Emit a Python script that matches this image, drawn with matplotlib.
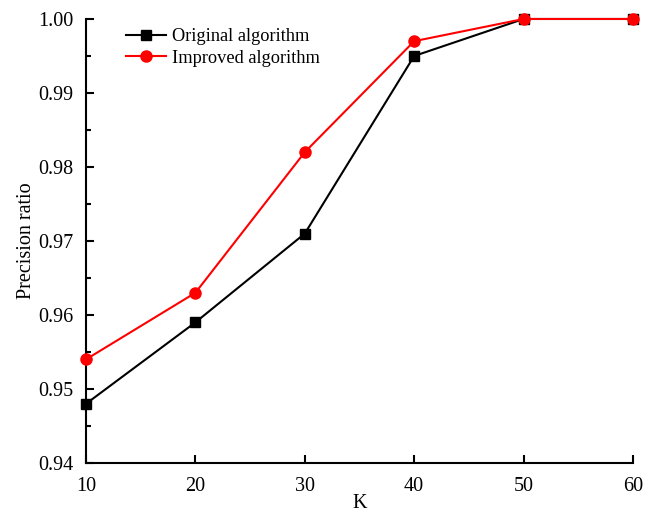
import matplotlib.pyplot as plt
from matplotlib.ticker import MultipleLocator

plt.rcParams["font.family"] = ["Liberation Serif", "DejaVu Serif"]

k_values = [10, 20, 30, 40, 50, 60]
original = [0.948, 0.959, 0.971, 0.995, 1.000, 1.000]
improved = [0.954, 0.963, 0.982, 0.997, 1.000, 1.000]
y_ticks = [0.94, 0.95, 0.96, 0.97, 0.98, 0.99, 1.00]

fig = plt.figure(figsize=(6.59, 5.13), dpi=100)
ax = fig.add_axes([0.1305, 0.0975, 0.83, 0.8655])

ax.plot(k_values, original, color="black", marker="s", markersize=6.5,
        linewidth=1.5, label="Original algorithm", clip_on=False, zorder=3)
ax.plot(k_values, improved, color="red", marker="o", markersize=8,
        linewidth=1.5, label="Improved algorithm", clip_on=False, zorder=4)

ax.set_xlim(10, 60)
ax.set_ylim(0.94, 1.00)
ax.set_xticks(k_values)
ax.set_yticks(y_ticks)
ax.set_yticklabels([f"{v:.2f}" for v in y_ticks])
ax.yaxis.set_minor_locator(MultipleLocator(0.005))

for side in ["top", "right"]:
    ax.spines[side].set_visible(False)
for side in ["left", "bottom"]:
    ax.spines[side].set_linewidth(1.5)

ax.tick_params(axis="both", which="major", direction="in", length=6, width=1.5,
               labelsize=14.5)
ax.tick_params(axis="x", which="major", pad=10)
ax.tick_params(axis="y", which="major", pad=9)
ax.tick_params(axis="y", which="minor", direction="in", length=3.5, width=1.5)

ax.set_xlabel("K", fontsize=14.5, labelpad=-1)
ax.set_ylabel("Precision ratio", fontsize=14.5, labelpad=1.5)

ax.legend(loc="upper left", bbox_to_anchor=(0.043, 1.017), frameon=False,
          fontsize=13.2, handlelength=2.2, handletextpad=0.3, labelspacing=0.25)

fig.savefig("out.png", dpi=100)
